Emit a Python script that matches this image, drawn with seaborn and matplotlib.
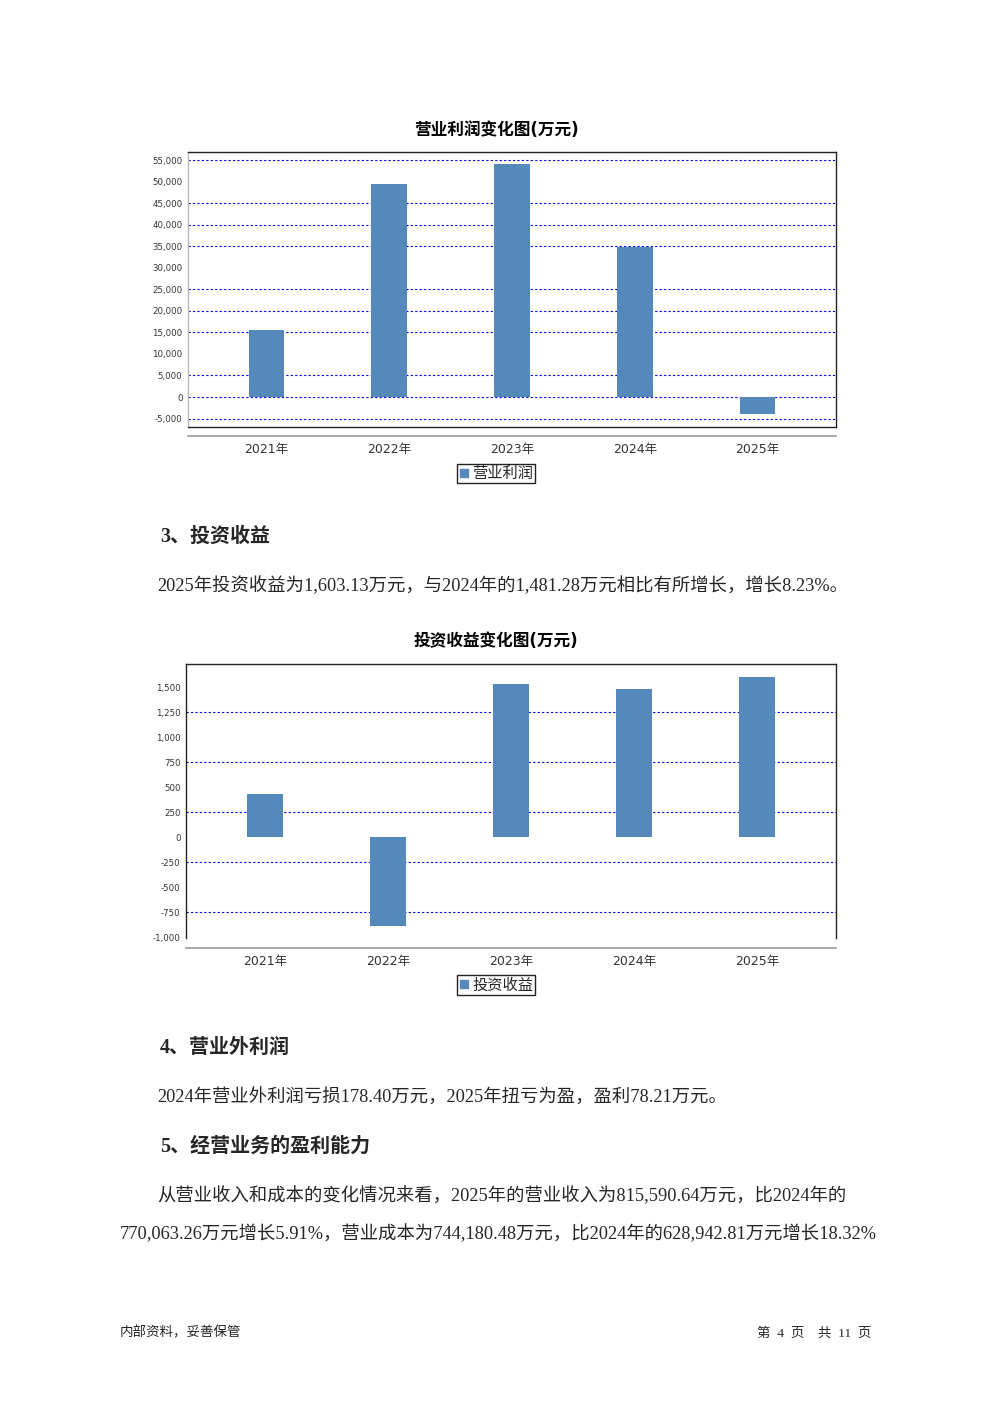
import matplotlib
matplotlib.use("Agg")
import matplotlib.pyplot as plt
import seaborn as sns
import pandas as pd
from matplotlib.lines import Line2D

# ---------------- data ----------------
years = ["2021年", "2022年", "2023年", "2024年", "2025年"]
op_profit = [15600, 49500, 54000, 34900, -4000]          # 营业利润 (万元)
op_ticks = list(range(-5000, 55001, 5000))
op_grid = [-5000, 0, 5000, 15000, 20000, 25000, 35000, 40000, 45000, 55000]
inv_income = [430, -890, 1535, 1481.28, 1603.13]         # 投资收益 (万元)
inv_ticks = list(range(-1000, 1501, 250))
inv_grid = [-750, -250, 250, 750, 1250]

title1 = "营业利润变化图(万元)"
title2 = "投资收益变化图(万元)"
legend1 = "营业利润"
legend2 = "投资收益"

heading3 = "3、投资收益"
para3 = "2025年投资收益为1,603.13万元，与2024年的1,481.28万元相比有所增长，增长8.23%。"
heading4 = "4、营业外利润"
para4 = "2024年营业外利润亏损178.40万元，2025年扭亏为盈，盈利78.21万元。"
heading5 = "5、经营业务的盈利能力"
para5_1 = "从营业收入和成本的变化情况来看，2025年的营业收入为815,590.64万元，比2024年的"
para5_2 = "770,063.26万元增长5.91%，营业成本为744,180.48万元，比2024年的628,942.81万元增长18.32%"
footer_l = "内部资料，妥善保管"
footer_r = "第  4  页    共  11  页"

BAR = "#5689BB"
sns.set_theme(style="white")
plt.rcParams["font.family"] = ["DejaVu Sans", "Noto Sans CJK SC"]
plt.rcParams["axes.unicode_minus"] = False

W, H = 992, 1403
fig = plt.figure(figsize=(W / 100, H / 100), dpi=100)
fig.patch.set_facecolor("white")

SERIF = ["Liberation Serif", "Noto Sans CJK SC"]
SANS = ["DejaVu Sans", "Noto Sans CJK SC"]
PX = 0.72  # points per pixel at dpi 100


def ftxt(x, y, s, **kw):
    fig.text(x / W, 1 - y / H, s, va="center", **kw)


def fmt(v):
    return "{:,}".format(int(v))


def make_chart(rect_px, values, ticks, grid, ylim, title, title_y, legend_lbl,
               legend_y, offset_px, draw_bottom_frame, left_color):
    l, t, r, b = rect_px
    ax = fig.add_axes([l / W, 1 - b / H, (r - l) / W, (b - t) / H])
    df = pd.DataFrame({"year": years, "value": values})
    sns.barplot(data=df, x="year", y="value", color=BAR, width=0.29,
                saturation=1, ax=ax, label=legend_lbl, edgecolor="none")
    ax.set_xlim(-0.64, 4.64)
    ax.set_ylim(*ylim)
    ax.set_xlabel("")
    ax.set_ylabel("")
    ax.set_yticks(ticks)
    ax.set_yticklabels([fmt(v) for v in ticks], fontsize=6.2, color="#333333",
                       family="DejaVu Sans")
    ax.tick_params(axis="y", length=0, pad=4)
    ax.tick_params(axis="x", length=1.5, width=0.8, color="#999999", pad=3.5,
                   labelsize=9, labelcolor="#333333")
    for g in grid:
        ax.axhline(g, color="#0000FF", lw=0.8, ls=(0, (2, 2)), zorder=0.5)
    for sp in ["top", "right"]:
        ax.spines[sp].set_color("#222222")
        ax.spines[sp].set_linewidth(1.0)
    ax.spines["left"].set_color(left_color)
    ax.spines["left"].set_linewidth(1.0)
    ax.spines["bottom"].set_position(("outward", offset_px * PX))
    ax.spines["bottom"].set_color("#999999")
    ax.spines["bottom"].set_linewidth(1.2)
    if draw_bottom_frame:
        ax.plot([0, 1], [0, 0], transform=ax.transAxes, color="#222222",
                lw=1.0, clip_on=False, zorder=5)
    for lab in ax.get_xticklabels():
        lab.set_family(SANS)
    ftxt(496, title_y, title, ha="center", fontsize=12, fontweight="bold",
         family=SANS, color="black")
    handle = Line2D([], [], marker="s", ls="none", color=BAR, markersize=6)
    ax.legend(handles=[handle], labels=[legend_lbl], loc="center",
              bbox_to_anchor=(496 / W, 1 - legend_y / H),
              bbox_transform=fig.transFigure, fancybox=False,
              edgecolor="#222222", framealpha=1, borderpad=0.15,
              handlelength=0.6, handletextpad=0.25, borderaxespad=0,
              prop={"family": SANS, "size": 11})
    ax.get_legend().get_frame().set_linewidth(1.0)
    return ax


make_chart((188, 152, 836, 427), op_profit, op_ticks, op_grid,
           (-6960, 56860), title1, 130, legend1, 473.5, 9, True, "#BBBBBB")
make_chart((186, 664, 836, 938), inv_income, inv_ticks, inv_grid,
           (-1010, 1730), title2, 641, legend2, 985, 10, False, "#222222")

# ---------------- document text ----------------
HS = 14.4
PS = 13.2
ftxt(160, 537, heading3, ha="left", fontsize=HS, fontweight="bold", family=SERIF)
ftxt(157, 586, para3, ha="left", fontsize=PS, family=SERIF)
ftxt(160, 1048, heading4, ha="left", fontsize=HS, fontweight="bold", family=SERIF)
ftxt(157, 1098, para4, ha="left", fontsize=PS, family=SERIF)
ftxt(160, 1147, heading5, ha="left", fontsize=HS, fontweight="bold", family=SERIF)
ftxt(157, 1196, para5_1, ha="left", fontsize=PS, family=SERIF)
ftxt(120, 1234, para5_2, ha="left", fontsize=PS, family=SERIF)
ftxt(120, 1333, footer_l, ha="left", fontsize=9.7, family=SERIF)
ftxt(871, 1333, footer_r, ha="right", fontsize=9.7, family=SERIF)

fig.savefig("out.png", dpi=100, facecolor="white")
